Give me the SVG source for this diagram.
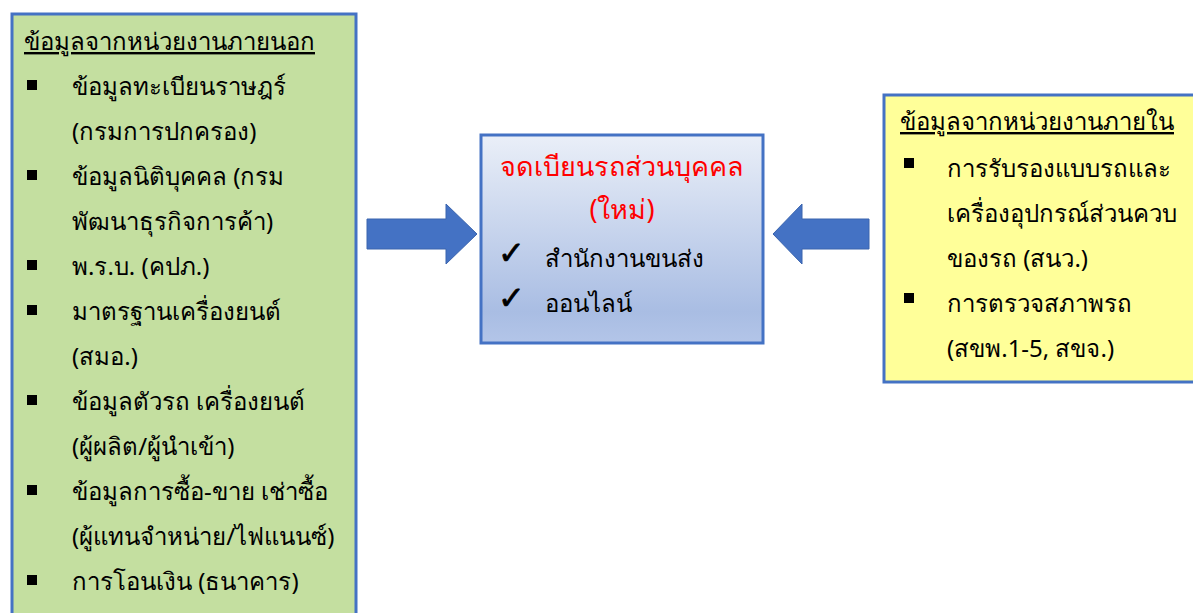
<svg xmlns="http://www.w3.org/2000/svg" width="1193" height="613" viewBox="0 0 1193 613">
<defs>
<linearGradient id="cg" x1="0" y1="0" x2="0" y2="1">
<stop offset="0" stop-color="#EAEFF8"/>
<stop offset="0.85" stop-color="#A9BDE3"/>
<stop offset="1" stop-color="#B3C5E8"/>
</linearGradient>
<style>
.box{stroke:#4472C4;stroke-width:3}
.t{font-family:Tahoma,"Noto Sans","DejaVu Sans",sans-serif;font-size:24px;fill:#000}
.u{text-decoration:underline}
.red{fill:#FF0000;text-anchor:middle;font-size:27px}
.b{fill:#000}
.ck{font-family:"DejaVu Sans",sans-serif;font-size:32px;fill:#000;stroke:#000;stroke-width:0.8}
.arr{fill:#4472C4;stroke:#3A64AE;stroke-width:1}
</style>
</defs>
<rect width="1193" height="613" fill="#FFFFFF"/>
<g id="left-box">
<rect class="box" x="12" y="14" width="344" height="620" fill="#C4DFA0"/>
<text class="t u" x="24" y="50">ข้อมูลจากหน่วยงานภายนอก</text>
<rect class="b" x="27" y="80" width="10" height="10"/>
<text class="t" x="72" y="95">ข้อมูลทะเบียนราษฎร์</text>
<text class="t" x="72" y="140">(กรมการปกครอง)</text>
<rect class="b" x="27" y="170" width="10" height="10"/>
<text class="t" x="72" y="185">ข้อมูลนิติบุคคล (กรม</text>
<text class="t" x="72" y="230">พัฒนาธุรกิจการค้า)</text>
<rect class="b" x="27" y="260" width="10" height="10"/>
<text class="t" x="72" y="275">พ.ร.บ. (คปภ.)</text>
<rect class="b" x="27" y="305" width="10" height="10"/>
<text class="t" x="72" y="320">มาตรฐานเครื่องยนต์</text>
<text class="t" x="72" y="365">(สมอ.)</text>
<rect class="b" x="27" y="395" width="10" height="10"/>
<text class="t" x="72" y="410">ข้อมูลตัวรถ เครื่องยนต์</text>
<text class="t" x="72" y="455">(ผู้ผลิต/ผู้นำเข้า)</text>
<rect class="b" x="27" y="485" width="10" height="10"/>
<text class="t" x="72" y="500">ข้อมูลการซื้อ-ขาย เช่าซื้อ</text>
<text class="t" x="72" y="545">(ผู้แทนจำหน่าย/ไฟแนนซ์)</text>
<rect class="b" x="27" y="575" width="10" height="10"/>
<text class="t" x="72" y="590">การโอนเงิน (ธนาคาร)</text>
</g>
<g id="center-box">
<rect class="box" x="481" y="135" width="282" height="208" fill="url(#cg)"/>
<text class="t red" x="622" y="176">จดเบียนรถส่วนบุคคล</text>
<text class="t red" x="622" y="219">(ใหม่)</text>
<text class="ck" x="498" y="264">✓</text>
<text class="t" x="545" y="267">สำนักงานขนส่ง</text>
<text class="ck" x="498" y="309">✓</text>
<text class="t" x="545" y="312">ออนไลน์</text>
</g>
<g id="right-box">
<rect class="box" x="884" y="95" width="320" height="287" fill="#FFFF99"/>
<text class="t u" x="900" y="130">ข้อมูลจากหน่วยงานภายใน</text>
<rect class="b" x="904" y="158" width="10" height="10"/>
<text class="t" x="947" y="177">การรับรองแบบรถและ</text>
<text class="t" x="947" y="222">เครื่องอุปกรณ์ส่วนควบ</text>
<text class="t" x="947" y="267">ของรถ (สนว.)</text>
<rect class="b" x="904" y="293" width="10" height="10"/>
<text class="t" x="947" y="312">การตรวจสภาพรถ</text>
<text class="t" x="947" y="357">(สขพ.1-5, สขจ.)</text>
</g>
<g id="connectors">
<polygon class="arr" points="367,219 446,219 446,204 477,234 446,264 446,249 367,249"/>
<polygon class="arr" points="869,219 802,219 802,204 773,234 802,264 802,249 869,249"/>
</g>
</svg>
